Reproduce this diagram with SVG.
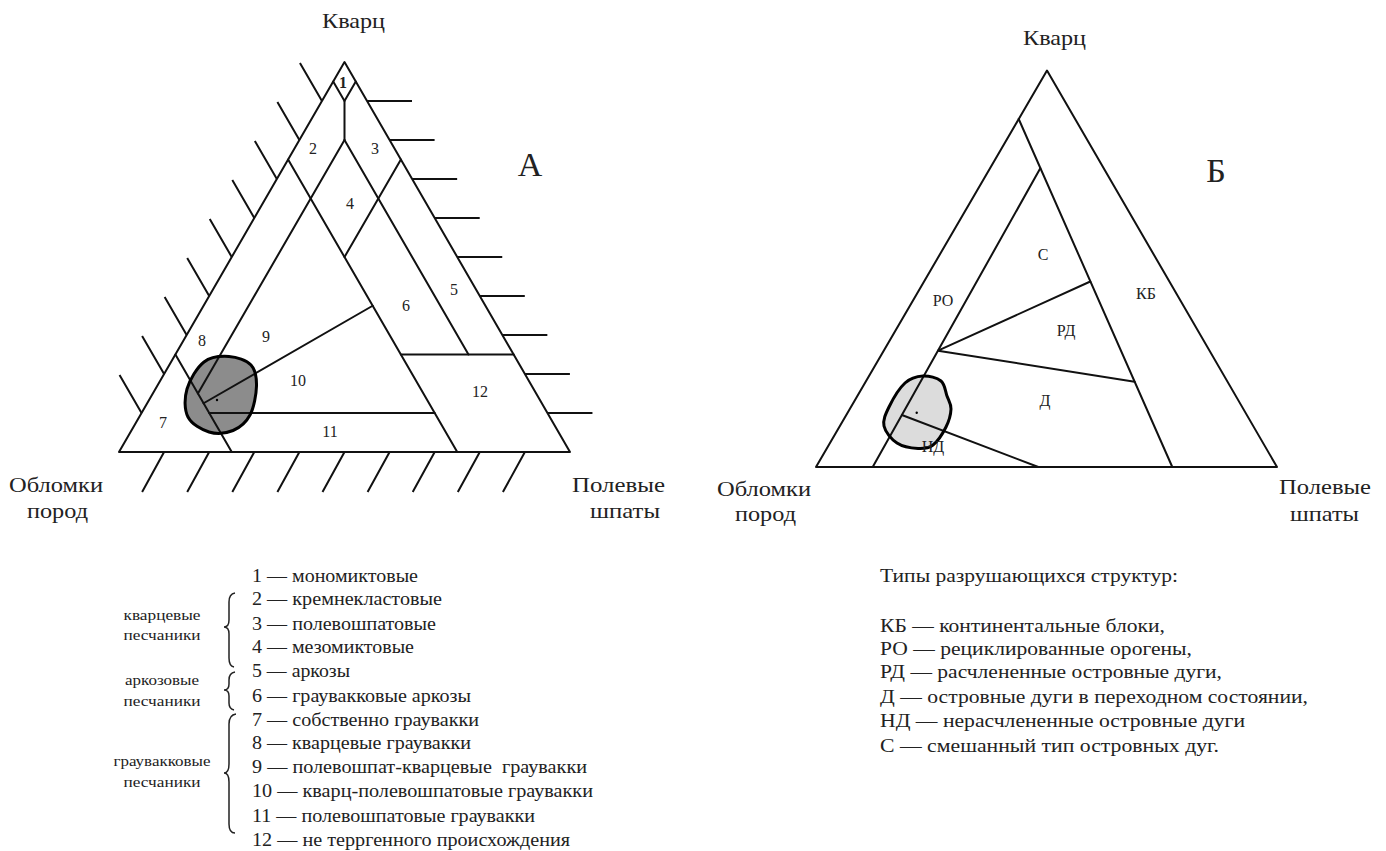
<svg xmlns="http://www.w3.org/2000/svg" width="1386" height="851" viewBox="0 0 1386 851">
<style>
.bg{fill:#fff}
.ln{stroke:#111;stroke-width:2;fill:none;stroke-linecap:round;stroke-linejoin:round}
.ht{stroke:#111;stroke-width:2;fill:none}
.br{stroke:#222;stroke-width:1.5;fill:none}
.blobA{fill:#8c8c8c;stroke:none}
.blobB{fill:#dcdcdc;stroke:none}
.blobO{fill:none;stroke:#000;stroke-width:3}
.t{font-family:'Liberation Serif','DejaVu Serif','Times New Roman',serif;fill:#222}
.ax{font-size:21px}
.big{font-size:34px}
.num{font-size:16px;text-anchor:middle}
.lg{font-size:18px}
.gl{font-size:14px;text-anchor:middle}
</style>
<rect class="bg" x="0" y="0" width="1386" height="851"/>

<!-- Diagram A -->
<g id="diagramA">
  <g id="blobA-fill"><path class="blobA" d="M229,356.5 C236.8,357 246.4,360.1 251,365 C255.6,369.9 256.7,377.7 256.5,386 C256.3,394.3 253.9,407.6 250,415 C246.1,422.4 239.8,427.7 233,430.5 C226.2,433.3 216.5,434.25 209,432 C201.5,429.75 191.7,424.2 188,417 C184.3,409.8 184.3,398.2 187,389 C189.7,379.8 197,367.4 204,362 C211,356.6 221.2,356 229,356.5 Z"/></g>
  <g id="hatchesA">
    <path class="ht" d="M321.95,101 L299.95,63 M299.4,140 L277.4,102 M276.85,179 L254.85,141 M254.3,218 L232.3,180 M231.75,257 L209.75,219 M209.2,296 L187.2,258 M186.65,335 L164.65,297 M164.1,374 L142.1,336 M141.55,413 L119.55,375"/>
    <path class="ht" d="M367.05,101 H412 M389.6,140 H434.6 M412.15,179 H457.15 M434.7,218 H479.7 M457.25,257 H502.25 M479.8,296 H524.8 M502.35,335 H547.35 M524.9,374 H569.9 M547.45,413 H592.45"/>
    <path class="ht" d="M164.1,452 L142.1,492 M209.2,452 L187.2,492 M254.3,452 L232.3,492 M299.4,452 L277.4,492 M344.5,452 L322.5,492 M389.6,452 L367.6,492 M434.7,452 L412.7,492 M479.8,452 L457.8,492 M524.9,452 L502.9,492"/>
  </g>
  <g id="triangleA"><path class="ln" d="M344.5,62 L570,452 L119,452 Z"/></g>
  <g id="boundariesA">
    <path class="ln" d="M333.2,81.5 L344.5,101 L355.8,81.5"/>
    <path class="ln" d="M344.5,101 V140"/>
    <path class="ln" d="M344.5,140 L197.9,393.5"/>
    <path class="ln" d="M344.5,140 L468.5,354.5"/>
    <path class="ln" d="M288.1,159.5 L457.25,452"/>
    <path class="ln" d="M400.9,159.5 L344.5,257"/>
    <path class="ln" d="M175.4,354.5 L231.75,452"/>
    <path class="ln" d="M400.9,354.5 H513.6"/>
    <path class="ln" d="M209.2,413 H434.7"/>
    <path class="ln" d="M372.7,305.75 L203.6,403.25"/>
  </g>
  <g id="blobA-outline">
    <path class="blobO" d="M229,356.5 C236.8,357 246.4,360.1 251,365 C255.6,369.9 256.7,377.7 256.5,386 C256.3,394.3 253.9,407.6 250,415 C246.1,422.4 239.8,427.7 233,430.5 C226.2,433.3 216.5,434.25 209,432 C201.5,429.75 191.7,424.2 188,417 C184.3,409.8 184.3,398.2 187,389 C189.7,379.8 197,367.4 204,362 C211,356.6 221.2,356 229,356.5 Z"/>
    <circle cx="217" cy="400" r="1.2" fill="#000"/>
  </g>
  <g id="labelsA">
    <text class="t num" x="343" y="88" font-weight="bold">1</text>
    <text class="t num" x="313" y="154">2</text>
    <text class="t num" x="375" y="154">3</text>
    <text class="t num" x="350" y="209">4</text>
    <text class="t num" x="454" y="295">5</text>
    <text class="t num" x="406" y="311">6</text>
    <text class="t num" x="163" y="428">7</text>
    <text class="t num" x="202" y="346">8</text>
    <text class="t num" x="266" y="342">9</text>
    <text class="t num" x="298" y="386">10</text>
    <text class="t num" x="330" y="437">11</text>
    <text class="t num" x="480" y="397">12</text>
    <text class="t big" x="530" y="176" text-anchor="middle">А</text>
    <text class="t ax" x="322" y="28" textLength="63" lengthAdjust="spacingAndGlyphs">Кварц</text>
    <text class="t ax" x="9" y="492" textLength="94" lengthAdjust="spacingAndGlyphs">Обломки</text>
    <text class="t ax" x="27" y="518" textLength="61" lengthAdjust="spacingAndGlyphs">пород</text>
    <text class="t ax" x="572" y="492" textLength="93" lengthAdjust="spacingAndGlyphs">Полевые</text>
    <text class="t ax" x="590" y="518" textLength="70" lengthAdjust="spacingAndGlyphs">шпаты</text>
  </g>
</g>

<!-- Diagram B -->
<g id="diagramB">
  <g id="blobB-fill"><path class="blobB" d="M923,376 C929,375.7 937,377.7 941,381 C945,384.3 945.3,391.3 947,396 C948.7,400.7 951.2,403.8 951,409 C950.8,414.2 949,421 946,427 C943,433 937.7,441.4 933,445 C928.3,448.6 924,448.8 918,448.5 C912,448.2 902.7,446.75 897,443 C891.3,439.25 885.3,432 884,426 C882.7,420 885.5,414.2 889,407 C892.5,399.8 899.3,388.2 905,383 C910.7,377.8 917,376.3 923,376 Z"/></g>
  <g id="triangleB"><path class="ln" d="M1047,70.5 L1277,467 L816,467 Z"/></g>
  <g id="boundariesB">
    <path class="ln" d="M1018.7,119 L1172.3,467"/>
    <path class="ln" d="M1040.3,168.3 L872.7,467"/>
    <path class="ln" d="M1090.3,281.5 L938,350.7 L1134.6,381.7"/>
    <path class="ln" d="M901.9,415 L1038.3,467"/>
  </g>
  <g id="blobB-outline">
    <path class="blobO" d="M923,376 C929,375.7 937,377.7 941,381 C945,384.3 945.3,391.3 947,396 C948.7,400.7 951.2,403.8 951,409 C950.8,414.2 949,421 946,427 C943,433 937.7,441.4 933,445 C928.3,448.6 924,448.8 918,448.5 C912,448.2 902.7,446.75 897,443 C891.3,439.25 885.3,432 884,426 C882.7,420 885.5,414.2 889,407 C892.5,399.8 899.3,388.2 905,383 C910.7,377.8 917,376.3 923,376 Z"/>
    <circle cx="916.7" cy="412.7" r="1.2" fill="#000"/>
  </g>
  <g id="labelsB">
    <text class="t num" x="1043" y="260">С</text>
    <text class="t num" x="943" y="306">РО</text>
    <text class="t num" x="1146" y="299">КБ</text>
    <text class="t num" x="1066" y="336">РД</text>
    <text class="t num" x="1045" y="406">Д</text>
    <text class="t num" x="933" y="452">НД</text>
    <text class="t big" x="1216" y="182" text-anchor="middle">Б</text>
    <text class="t ax" x="1023" y="45" textLength="63" lengthAdjust="spacingAndGlyphs">Кварц</text>
    <text class="t ax" x="717" y="496" textLength="94" lengthAdjust="spacingAndGlyphs">Обломки</text>
    <text class="t ax" x="735" y="521" textLength="61" lengthAdjust="spacingAndGlyphs">пород</text>
    <text class="t ax" x="1279" y="494" textLength="92" lengthAdjust="spacingAndGlyphs">Полевые</text>
    <text class="t ax" x="1290" y="521" textLength="69" lengthAdjust="spacingAndGlyphs">шпаты</text>
  </g>
</g>

<!-- Legend A -->
<g id="legendA">
  <g id="bracesA">
    <path class="br" d="M235,593 Q229,594 229,602 L229,620 Q229,627 224,627 Q229,627 229,634 L229,658 Q229,666 234,667"/>
    <path class="br" d="M235,672 Q229,673 229,680 L229,684 Q229,690 224,690 Q229,690 229,696 L229,703 Q229,709 234,710"/>
    <path class="br" d="M236,714 Q229,715 229,724 L229,764 Q229,773 224,773 Q229,773 229,782 L229,824 Q229,833 235,833"/>
  </g>
  <text class="t gl" x="162" y="620" textLength="77" lengthAdjust="spacingAndGlyphs">кварцевые</text>
  <text class="t gl" x="162" y="640" textLength="77" lengthAdjust="spacingAndGlyphs">песчаники</text>
  <text class="t gl" x="162" y="685" textLength="74" lengthAdjust="spacingAndGlyphs">аркозовые</text>
  <text class="t gl" x="162" y="706" textLength="77" lengthAdjust="spacingAndGlyphs">песчаники</text>
  <text class="t gl" x="162" y="766" textLength="97" lengthAdjust="spacingAndGlyphs">граувакковые</text>
  <text class="t gl" x="162" y="787" textLength="77" lengthAdjust="spacingAndGlyphs">песчаники</text>
  <text class="t lg" x="252" y="582" textLength="166" lengthAdjust="spacingAndGlyphs">1 — мономиктовые</text>
  <text class="t lg" x="252" y="605" textLength="190" lengthAdjust="spacingAndGlyphs">2 — кремнекластовые</text>
  <text class="t lg" x="252" y="630" textLength="184" lengthAdjust="spacingAndGlyphs">3 — полевошпатовые</text>
  <text class="t lg" x="252" y="653" textLength="162" lengthAdjust="spacingAndGlyphs">4 — мезомиктовые</text>
  <text class="t lg" x="252" y="677" textLength="98" lengthAdjust="spacingAndGlyphs">5 — аркозы</text>
  <text class="t lg" x="252" y="702" textLength="219" lengthAdjust="spacingAndGlyphs">6 — граувакковые аркозы</text>
  <text class="t lg" x="252" y="726" textLength="227" lengthAdjust="spacingAndGlyphs">7 — собственно граувакки</text>
  <text class="t lg" x="252" y="749" textLength="219" lengthAdjust="spacingAndGlyphs">8 — кварцевые граувакки</text>
  <text class="t lg" x="252" y="773" textLength="335" lengthAdjust="spacingAndGlyphs" xml:space="preserve">9 — полевошпат-кварцевые  граувакки</text>
  <text class="t lg" x="252" y="797" textLength="341" lengthAdjust="spacingAndGlyphs">10 — кварц-полевошпатовые граувакки</text>
  <text class="t lg" x="252" y="822" textLength="283" lengthAdjust="spacingAndGlyphs">11 — полевошпатовые граувакки</text>
  <text class="t lg" x="252" y="846" textLength="318" lengthAdjust="spacingAndGlyphs">12 — не терргенного происхождения</text>
</g>

<!-- Legend B -->
<g id="legendB">
  <text class="t lg" x="880" y="582" textLength="298" lengthAdjust="spacingAndGlyphs">Типы разрушающихся структур:</text>
  <text class="t lg" x="880" y="632" textLength="285" lengthAdjust="spacingAndGlyphs">КБ — континентальные блоки,</text>
  <text class="t lg" x="880" y="655" textLength="312" lengthAdjust="spacingAndGlyphs">РО — рециклированные орогены,</text>
  <text class="t lg" x="880" y="678" textLength="342" lengthAdjust="spacingAndGlyphs">РД — расчлененные островные дуги,</text>
  <text class="t lg" x="880" y="703" textLength="428" lengthAdjust="spacingAndGlyphs">Д — островные дуги в переходном состоянии,</text>
  <text class="t lg" x="880" y="727" textLength="365" lengthAdjust="spacingAndGlyphs">НД — нерасчлененные островные дуги</text>
  <text class="t lg" x="880" y="752" textLength="339" lengthAdjust="spacingAndGlyphs">С — смешанный тип островных дуг.</text>
</g>
</svg>
